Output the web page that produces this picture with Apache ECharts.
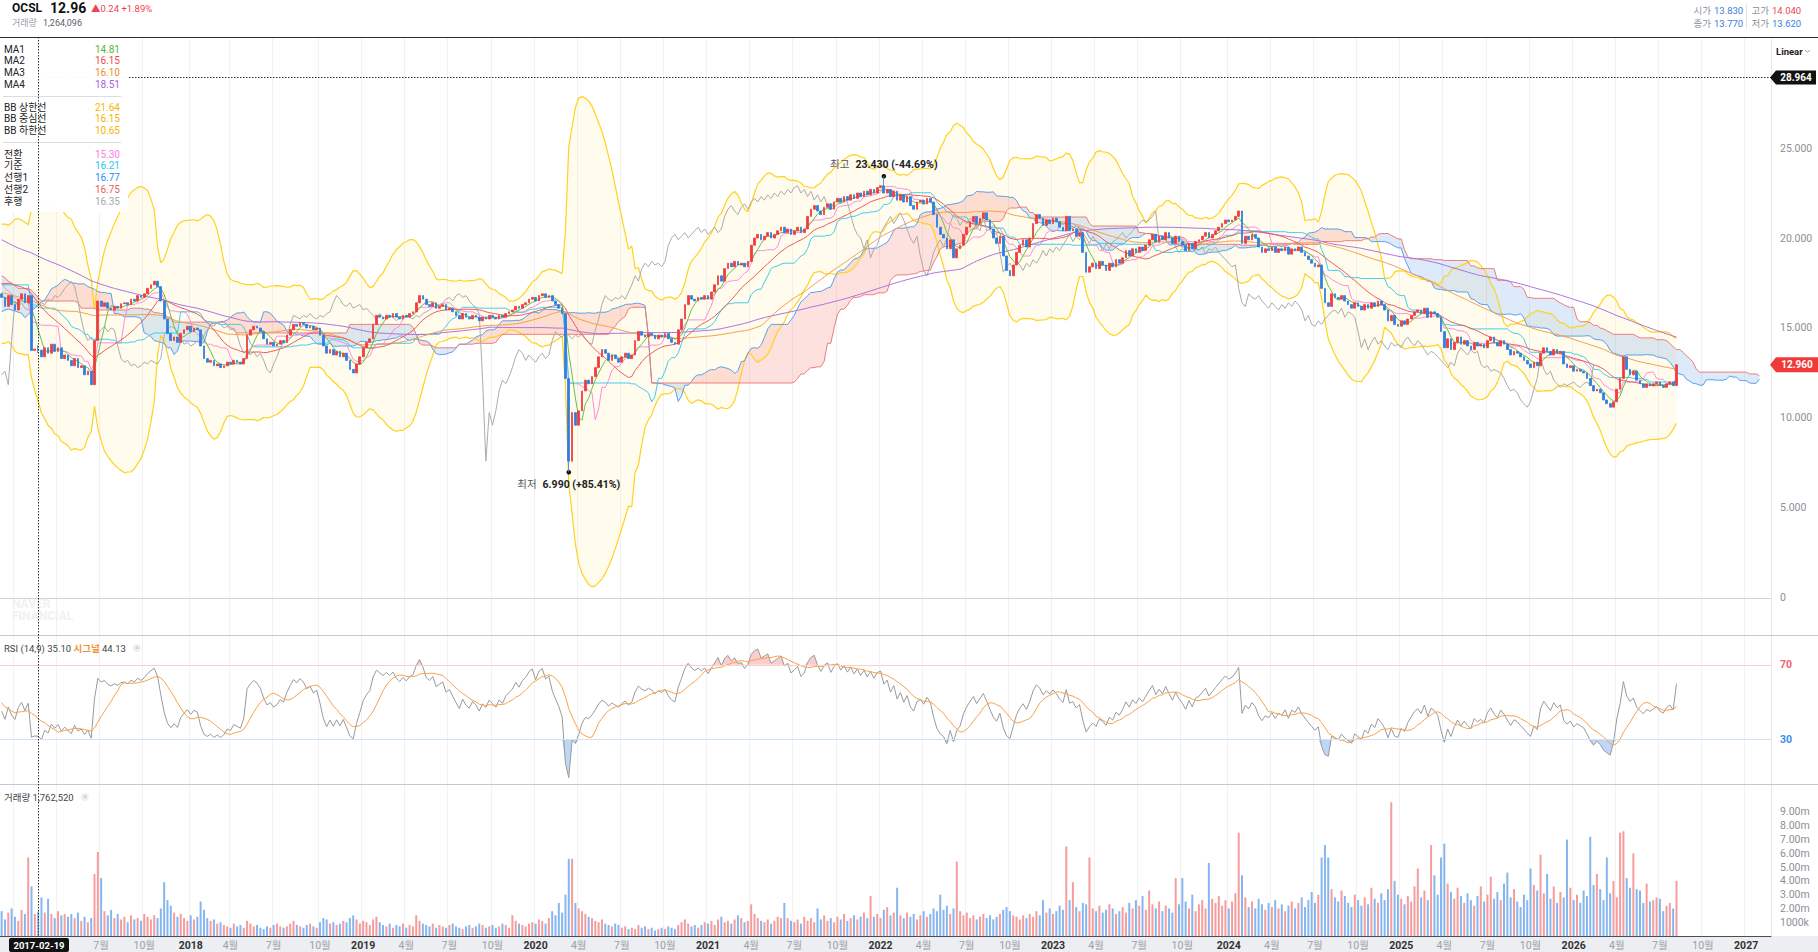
<!DOCTYPE html>
<html><head><meta charset="utf-8">
<script src="https://cdn.jsdelivr.net/npm/echarts@6/dist/echarts.min.js"></script>
<style>html,body{margin:0;padding:0;background:#fff;overflow:hidden}#c{width:1818px;height:952px}</style>
</head><body><div id="c"></div>
<script>
// ---------------- data ----------------
const startDate = '2016-12-04';   // first weekly candle
const weekCount = 534;            // weeks on the axis (data + 26-week cloud lead)
// weekly closes before the visible window (warm-up for the long indicators)
const preClose = [
 29.5,29.7,29.6,29.8,29.4,29.0,28.5,28.2,27.8,27.5,27.9,28.2,28.0,27.6,
 27.0,26.5,25.8,24.9,23.5,22.8,23.9,24.5,24.2,
 24.0,23.6,23.0,22.4,22.0,22.8,23.5,23.8,23.4,23.2,23.6,
 23.9,24.3,24.0,23.5,23.2,23.8,24.0,23.6,23.1,22.8,22.5,22.2,21.9,
 21.6,22.0,22.4,22.1,21.8,22.3,22.6,22.4,22.0,21.8,21.5,21.2,21.0,
 20.8,21.2,21.0,20.6,20.2,19.8,19.5,18.9,19.2,19.6,19.8,19.4,19.0,
 19.2,19.5,19.8,19.6,19.0,18.5,18.2,18.6,19.0,18.8,18.3,18.0,17.8,
 16.8,15.6,14.9,14.3,13.8,13.2,13.6,14.4,14.9,15.3,15.0,15.4,15.8,
 15.6,15.9,16.2,16.0,15.7,16.1,16.4,16.2,16.0,16.3,16.6,16.4,16.2,
 16.5,16.9,17.3,17.6,17.9,18.2,18.0,18.4,18.8,18.5,18.2,17.9,17.6,
 17.3,16.7,17.1,16.5,16.9
];
// weekly closes, visible window
const close = [
 16.7,16.2,16.8,16.3,16.0,16.6,16.9,16.4,16.8,13.75,
 13.83,13.77,13.4,13.9,13.6,14.1,13.7,13.9,13.3,13.5,
 13.2,12.9,13.3,12.8,12.9,12.4,12.6,11.85,14.3,16.5,
 16.2,16.4,16.1,16.0,16.2,16.1,16.35,16.4,16.3,16.6,
 16.5,16.8,16.7,16.9,17.2,17.4,17.6,17.3,16.5,15.5,
 14.7,14.3,14.5,14.2,14.7,14.9,15.1,14.8,15.0,14.9,
 14.0,13.3,13.1,13.2,12.9,13.0,12.8,12.9,13.1,13.0,
 13.2,13.1,13.0,13.3,14.6,14.9,15.1,15.0,14.8,14.4,
 14.1,14.2,14.0,14.1,14.3,14.2,14.6,14.9,15.2,15.1,
 15.3,15.2,15.0,15.1,14.9,15.0,14.6,14.0,13.6,13.8,
 13.5,13.7,13.4,13.6,13.2,12.7,12.5,13.0,13.4,13.9,
 14.2,14.4,15.2,15.7,15.6,15.5,15.7,15.6,15.8,15.6,
 15.5,15.7,15.6,15.8,15.9,16.4,16.8,16.6,16.3,16.2,
 16.4,16.1,16.2,16.3,16.0,16.1,15.9,15.7,15.5,15.8,
 15.6,15.5,15.7,15.6,15.4,15.6,15.5,15.7,15.6,15.5,
 15.7,15.6,15.8,15.9,16.0,16.2,16.1,16.3,16.4,16.6,
 16.7,16.5,16.8,16.9,16.7,16.8,16.5,16.3,16.1,15.8,
 12.2,7.6,10.3,9.6,10.4,11.5,12.1,11.9,12.3,12.8,
 13.4,13.8,13.6,13.2,13.5,13.3,13.1,13.4,13.6,13.3,
 13.5,14.3,14.8,14.6,14.5,14.7,14.6,14.4,14.6,14.5,
 14.7,14.4,14.2,14.1,14.9,15.5,16.3,16.8,16.6,16.5,
 16.7,16.6,16.8,16.6,17.0,17.4,17.9,17.6,18.3,18.6,
 18.4,18.7,18.5,18.6,18.4,18.7,19.6,20.0,20.2,19.9,
 20.1,20.3,20.0,20.2,20.4,20.6,20.3,20.5,20.2,20.4,
 20.6,20.3,20.5,21.2,21.6,21.8,21.5,21.3,21.7,21.9,
 21.6,22.0,22.2,22.0,22.3,22.1,22.4,22.2,22.5,22.3,
 22.6,22.4,22.7,22.5,22.8,22.9,22.5,22.7,22.3,22.6,
 22.1,22.4,22.0,22.3,21.8,21.6,22.0,22.1,21.9,22.2,
 22.0,21.3,20.6,20.2,20.0,19.4,19.9,18.9,19.4,19.6,
 20.2,20.6,20.9,21.2,20.8,21.1,21.4,21.0,20.5,20.0,
 19.7,20.1,19.0,18.2,17.9,18.5,19.2,19.6,19.9,19.5,
 20.0,20.8,21.3,21.1,20.7,21.0,20.8,21.1,20.9,20.6,
 20.4,21.2,20.4,20.5,20.1,20.3,19.2,18.1,18.4,18.6,
 18.3,18.7,18.5,18.2,18.6,18.4,18.8,18.6,18.9,19.3,
 19.0,19.4,19.2,19.5,19.3,19.6,19.9,20.2,19.8,20.1,
 19.9,20.3,20.0,19.7,20.1,19.8,19.6,19.3,19.7,19.4,
 19.8,19.9,20.1,20.3,20.0,20.2,20.4,20.6,20.8,21.0,
 20.9,21.0,21.2,21.5,19.7,20.1,19.9,20.2,20.0,19.5,
 19.2,19.4,19.3,19.5,19.2,19.4,19.3,19.5,19.1,19.4,
 19.3,19.5,19.2,19.0,18.8,18.6,18.4,18.5,17.2,16.4,
 16.2,16.9,16.7,16.6,16.8,16.5,16.3,16.1,16.4,16.2,
 16.0,16.3,16.1,16.4,16.2,16.5,16.3,16.0,15.4,15.7,
 15.2,15.1,15.4,15.2,15.5,15.7,15.9,16.0,15.8,16.1,
 15.6,15.9,15.8,15.6,14.8,13.9,14.4,13.8,14.2,14.5,
 14.1,14.3,14.0,13.8,14.2,14.0,14.1,13.9,14.3,14.5,
 14.2,14.0,14.3,14.1,13.8,13.5,13.7,13.6,13.4,13.2,
 13.0,12.8,13.1,12.9,13.6,13.9,13.7,13.5,13.8,13.6,
 13.7,13.0,12.8,12.9,12.6,12.7,12.6,12.5,12.2,11.8,
 11.5,11.6,11.4,11.0,10.8,10.6,10.9,11.6,12.2,13.4,
 12.7,12.4,12.6,12.1,11.9,11.7,11.9,11.8,11.9,12.0,
 11.8,11.7,11.9,12.0,11.8,12.96
];
// weekly volume, millions of shares
const volumeM = [
 1.8,1.2,1.7,2.0,1.4,1.1,1.9,1.6,5.7,3.6,
 1.6,1.76,2.8,1.7,2.7,1.6,1.3,1.8,1.5,1.6,
 1.4,1.6,1.3,1.7,1.1,1.4,1.0,1.3,4.5,6.1,
 4.2,1.8,1.5,1.9,1.3,1.6,1.2,1.4,1.0,1.5,
 1.2,1.3,1.1,1.6,1.4,1.2,1.5,1.3,2.0,3.9,
 2.6,2.2,1.7,1.4,1.6,1.3,1.1,1.5,1.2,1.4,
 2.5,1.9,1.3,1.1,1.2,0.9,1.0,0.8,0.7,0.6,
 0.9,0.7,0.8,0.6,1.1,0.9,0.7,0.8,0.6,0.5,
 0.7,0.6,0.8,0.9,0.7,0.6,0.7,0.9,1.1,0.8,
 0.7,0.6,0.8,0.9,0.7,0.6,1.0,1.3,1.2,0.9,
 1.0,0.8,0.9,1.1,1.0,1.3,1.5,1.2,0.9,1.1,
 1.0,0.8,1.2,1.4,1.0,0.8,0.7,0.9,0.6,0.8,
 0.7,0.9,0.6,0.8,0.7,1.5,1.1,0.9,0.8,0.7,
 0.9,0.6,0.8,0.7,0.6,0.8,0.9,0.7,0.6,0.5,
 0.7,0.8,0.6,0.7,0.9,0.8,0.6,0.7,0.8,0.6,
 0.7,0.9,0.8,0.6,1.5,1.1,0.9,0.8,0.7,0.9,
 1.0,0.9,1.2,1.1,0.9,1.3,1.8,1.5,2.4,1.7,
 3.0,5.6,5.6,2.4,2.0,1.8,1.6,1.4,1.3,1.1,
 1.0,1.2,0.9,0.8,0.7,0.9,0.8,0.6,0.7,0.5,
 0.6,0.5,0.8,0.6,0.7,0.5,0.6,0.4,0.5,0.6,
 0.5,0.7,0.6,0.5,0.8,1.0,1.2,0.9,0.7,0.8,
 0.6,0.8,1.0,0.9,1.1,0.8,1.2,1.4,1.0,1.1,
 0.9,1.2,1.5,1.3,1.0,1.1,2.3,1.6,1.3,1.1,
 1.0,1.2,0.9,1.1,1.4,1.3,2.4,1.3,1.1,1.0,
 1.2,0.9,1.4,1.1,1.3,1.0,2.0,1.2,1.5,1.1,
 1.3,1.0,1.4,1.2,1.6,1.1,1.3,1.5,1.2,1.4,
 1.7,1.3,2.9,1.4,1.6,1.3,1.9,2.1,1.5,1.7,
 3.5,1.5,1.3,1.7,1.4,1.6,1.2,1.5,1.8,1.4,
 1.6,2.0,1.8,3.0,1.9,2.2,1.6,2.0,5.4,1.8,
 1.5,1.7,1.3,1.5,1.2,1.4,1.6,1.3,1.5,1.2,
 1.4,1.6,1.9,2.1,1.8,1.5,1.4,1.2,1.5,1.3,
 1.6,1.4,1.8,1.5,2.6,1.7,2.0,1.6,1.8,2.2,
 1.9,6.5,2.6,3.9,2.1,1.8,2.4,2.3,5.7,2.0,
 1.8,2.2,1.7,1.9,2.3,2.0,1.6,1.8,2.1,1.7,
 2.4,2.0,2.6,2.2,2.9,1.9,3.3,2.3,2.0,2.5,
 1.8,2.2,2.0,1.7,4.2,2.3,4.2,2.5,2.0,3.0,
 1.8,2.3,2.6,2.0,5.3,2.7,2.4,2.9,2.2,2.6,
 2.0,2.5,3.1,7.5,4.4,2.8,2.1,2.5,2.0,2.7,
 2.3,1.9,2.4,2.1,2.6,2.0,2.3,1.8,2.2,2.5,
 2.0,2.4,2.8,2.1,2.6,3.2,2.4,3.0,5.7,6.6,
 5.7,3.4,2.8,2.5,3.3,2.9,2.4,2.1,3.0,2.6,
 2.2,2.8,2.3,3.5,2.7,2.4,3.1,2.6,3.4,9.7,
 4.0,3.0,2.7,2.3,2.9,2.5,3.6,4.9,2.8,3.3,
 2.6,6.6,4.4,3.0,5.7,6.7,3.8,3.2,2.7,3.5,
 2.9,2.4,3.1,2.6,2.2,2.9,3.6,2.5,3.0,4.3,
 2.7,3.2,2.6,3.8,4.6,2.8,3.4,2.5,2.1,3.0,
 2.6,4.9,3.7,3.3,5.9,3.1,4.5,2.7,3.6,2.4,
 3.2,2.8,7.0,3.5,2.6,3.0,2.4,3.3,2.9,7.2,
 3.7,4.5,3.4,2.6,5.7,3.1,4.0,2.8,7.5,7.6,
 4.2,3.5,6.0,3.4,3.3,2.4,3.8,2.5,2.6,2.8,
 2.7,1.8,2.2,2.4,2.0,4.0
];
// wick extremes readable in the picture: [week index, value]
const highMarks = [[11, 14.04], [266, 23.43]];
const lowMarks  = [[11, 13.62], [171, 6.99]];
const lastClose = 12.96;
const hoverIndex = 11;
const hoverDate = '2017-02-19';
const hoverPrice = 28.964;
// axis tick labels
const priceTicks = [0, 5, 10, 15, 20, 25];
const rsiTicks = [30, 70];
const volTicks = [1, 2, 3, 4, 5, 6, 7, 8, 9];
// legend texts (values at hovered week 2017-02-19)
const legendMA = [['MA1','14.81','#5cb531'],['MA2','16.15','#f0484b'],['MA3','16.10','#f38b2c'],['MA4','18.51','#a263d9']];
const legendBB = [['BB 상한선','21.64','#f7b500'],['BB 중심선','16.15','#f7b500'],['BB 하한선','10.65','#f7b500']];
const legendIchi = [['전환','15.30','#ff79e0'],['기준','16.21','#1ec8f0'],['선행1','16.77','#2d8cf0'],['선행2','16.75','#f05a5a'],['후행','16.35','#a5a9b0']];

// ---------------- build ----------------
const dates = [], dateObjs = [];
{ const t0 = Date.parse(startDate + 'T00:00:00Z');
  for (let i = 0; i < weekCount; i++) { const d = new Date(t0 + i * 7 * 86400000); dateObjs.push(d); dates.push(d.toISOString().slice(0, 10)); } }
const P = preClose.length, N = close.length;
const fc = preClose.concat(close);
const fo = fc.map((c, j) => j === 0 ? c : fc[j - 1]);
const fh = fc.map((c, j) => Math.max(c, fo[j]));
const fl = fc.map((c, j) => Math.min(c, fo[j]));
highMarks.forEach(([i, v]) => fh[i + P] = v);
lowMarks.forEach(([i, v]) => fl[i + P] = v);

function ma(n) { return close.map((_, i) => { const j = i + P; if (j - n + 1 < 0) return null; let s = 0; for (let k = j - n + 1; k <= j; k++) s += fc[k]; return s / n; }); }
const ma1 = ma(5), ma2 = ma(20), ma3 = ma(60), ma4 = ma(120);
// Bollinger as drawn by the source chart (20 weeks, half width = sqrt of summed squared deviations)
const bbHalf = close.map((_, i) => { const j = i + P, m = ma2[i]; let s = 0; for (let k = j - 19; k <= j; k++) s += (fc[k] - m) * (fc[k] - m); return Math.sqrt(s); });
const bbUp = ma2.map((m, i) => m + bbHalf[i]);
const bbLo = ma2.map((m, i) => m - bbHalf[i]);
function hlMid(n, j) { if (j - n + 1 < 0) return null; let hi = -Infinity, lo = Infinity; for (let k = j - n + 1; k <= j; k++) { if (fh[k] > hi) hi = fh[k]; if (fl[k] < lo) lo = fl[k]; } return (hi + lo) / 2; }
const tenkan = close.map((_, i) => hlMid(9, i + P));
const kijun = close.map((_, i) => hlMid(26, i + P));
const SHIFT = 25;
const spanA = new Array(weekCount).fill(null), spanB = new Array(weekCount).fill(null), chikou = new Array(weekCount).fill(null);
for (let i = -SHIFT; i < N; i++) { const k = i + SHIFT; if (k < 0 || k >= weekCount) continue; const j = i + P; const t = hlMid(9, j), kj = hlMid(26, j); spanA[k] = (t != null && kj != null) ? (t + kj) / 2 : null; spanB[k] = hlMid(52, j); }
for (let k = 0; k + SHIFT < N; k++) chikou[k] = close[k + SHIFT];
const cloudLow = spanA.map((a, k) => a == null || spanB[k] == null ? null : Math.min(a, spanB[k]));
const cloudUp = spanA.map((a, k) => a == null || spanB[k] == null ? null : Math.max(0, a - spanB[k]));
const cloudDn = spanA.map((a, k) => a == null || spanB[k] == null ? null : Math.max(0, spanB[k] - a));
// RSI 14 (Wilder) and 9-week signal
const rsiFull = new Array(fc.length).fill(null);
{ let ag = 0, al = 0; for (let j = 1; j < fc.length; j++) { const d = fc[j] - fc[j - 1]; const g = Math.max(d, 0), l = Math.max(-d, 0);
  if (j <= 14) { ag += g; al += l; if (j === 14) { ag /= 14; al /= 14; rsiFull[j] = al === 0 ? 100 : 100 - 100 / (1 + ag / al); } }
  else { ag = (ag * 13 + g) / 14; al = (al * 13 + l) / 14; rsiFull[j] = al === 0 ? 100 : 100 - 100 / (1 + ag / al); } } }
const rsi = close.map((_, i) => rsiFull[i + P]);
const rsiSig = close.map((_, i) => { const j = i + P; let s = 0; for (let k = j - 8; k <= j; k++) s += rsiFull[k]; return s / 9; });

const candles = close.map((c, i) => { const j = i + P; return [fo[j], c, fl[j], fh[j]]; });
const volData = volumeM.map((v, i) => ({ value: v, itemStyle: { color: close[i] >= fo[i + P] ? '#f59c9c' : '#86b6ef' } }));
const hiVal = 23.43, loVal = 6.99;
const pct = v => ((lastClose - v) / v * 100);
const hiLabel = '{g|최고}  {b|' + hiVal.toFixed(3) + ' (' + pct(hiVal).toFixed(2) + '%)}';
const loLabel = '{g|최저}  {b|' + loVal.toFixed(3) + ' (+' + pct(loVal).toFixed(2) + '%)}';

function quarterStart(idx) { const d = dateObjs[idx]; const m = d.getUTCMonth(); if (m % 3 !== 0) return false; if (idx === 0) return d.getUTCDate() <= 7; return dateObjs[idx - 1].getUTCMonth() !== m; }
// the first year label sits under the hovered-date tag, so it is not printed
function labelShown(idx) { return quarterStart(idx) && idx > 6; }

const FONT = 'Roboto, "Noto Sans CJK KR", "Noto Sans", sans-serif';
const PLOT_W = 1771;
const grids = [
  { left: 0, top: 37, width: PLOT_W, height: 598 },
  { left: 0, top: 635, width: PLOT_W, height: 149 },
  { left: 0, top: 784, width: PLOT_W, height: 152 }
];
const xAxes = [0, 1, 2].map(g => ({
  type: 'category', gridIndex: g, data: dates, boundaryGap: true,
  axisLine: { show: g === 2, lineStyle: { color: '#4a4f57', width: 1 } },
  axisTick: { show: false },
  axisLabel: g === 2 ? {
    show: true, interval: (i) => labelShown(i), showMinLabel: false, margin: 4, fontFamily: FONT, fontSize: 10.5,
    formatter: (v, i) => { const d = dateObjs[i]; const m = d.getUTCMonth(); return m === 0 ? '{y|' + d.getUTCFullYear() + '}' : '{m|' + (m + 1) + '월}'; },
    rich: { y: { color: '#333', fontWeight: 'bold', fontSize: 10.5, fontFamily: FONT }, m: { color: '#9aa0a8', fontSize: 10.5, fontFamily: FONT } }
  } : { show: false },
  splitLine: { show: true, interval: (i) => quarterStart(i), lineStyle: { color: '#f0f1f3', width: 1 } }
}));
const yAxes = [
  { type: 'value', gridIndex: 0, position: 'right', min: -2.0556, max: 31.1667, splitLine: { show: false },
    axisLine: { show: true, lineStyle: { color: '#e6e8eb' } }, axisTick: { show: false },
    axisLabel: { customValues: priceTicks, formatter: v => Math.abs(v) < 1e-9 ? '0' : (+v).toFixed(3), color: '#8b9099', fontSize: 10.5, fontFamily: FONT, margin: 9 } },
  { type: 'value', gridIndex: 1, position: 'right', min: 6, max: 86, splitLine: { show: false },
    axisLine: { show: true, lineStyle: { color: '#e6e8eb' } }, axisTick: { show: false },
    axisLabel: { customValues: rsiTicks, formatter: v => +v > 50 ? '{r|70}' : '{b|30}', margin: 9,
      rich: { r: { color: '#f0646e', fontSize: 10.5, fontWeight: 'bold', fontFamily: FONT }, b: { color: '#3d8cf0', fontSize: 10.5, fontWeight: 'bold', fontFamily: FONT } } } },
  { type: 'value', gridIndex: 2, position: 'right', min: 0, max: 11.03, splitLine: { show: false },
    axisLine: { show: true, lineStyle: { color: '#e6e8eb' } }, axisTick: { show: false },
    axisLabel: { customValues: volTicks, formatter: v => Math.abs(v - 1) < 1e-9 ? '1000k' : (+v).toFixed(2) + 'm', color: '#8b9099', fontSize: 10.5, fontFamily: FONT, margin: 9 } }
];
function ln(data, color, extra) { return Object.assign({ type: 'line', data, xAxisIndex: 0, yAxisIndex: 0, symbol: 'none', silent: true, animation: false, lineStyle: { color, width: 1 }, z: 3 }, extra || {}); }
const series = [
  ln(bbLo, 'transparent', { stack: 'bb', stackStrategy: 'all', lineStyle: { opacity: 0 }, z: 1 }),
  ln(bbUp.map((u, i) => u - bbLo[i]), 'transparent', { stack: 'bb', stackStrategy: 'all', lineStyle: { opacity: 0 }, areaStyle: { color: 'rgba(255,224,100,0.16)' }, z: 1 }),
  ln(cloudLow, 'transparent', { stack: 'cl', stackStrategy: 'all', lineStyle: { opacity: 0 }, z: 1 }),
  ln(cloudUp, 'transparent', { stack: 'cl', stackStrategy: 'all', lineStyle: { opacity: 0 }, areaStyle: { color: 'rgba(240,95,85,0.27)' }, z: 1 }),
  ln(cloudDn, 'transparent', { stack: 'cl', stackStrategy: 'all', lineStyle: { opacity: 0 }, areaStyle: { color: 'rgba(70,145,230,0.27)' }, z: 1 }),
  ln(bbUp, '#ffd21f', { lineStyle: { color: '#ffd21f', width: 1.2 } }),
  ln(bbLo, '#ffd21f', { lineStyle: { color: '#ffd21f', width: 1.2 } }),
  ln(spanA, '#5a9ff0'),
  ln(spanB, '#f27a7a'),
  ln(chikou, '#ababab'),
  ln(tenkan, '#ff8ae3'),
  ln(kijun, '#3fcdf0'),
  ln(ma4, '#ad72e0'),
  ln(ma3, '#f5a04a'),
  ln(ma2, '#ef5b5b'),
  ln(ma1, '#6abf4b'),
  { type: 'candlestick', data: candles, xAxisIndex: 0, yAxisIndex: 0, barWidth: 2.2, silent: true, z: 5, animation: false,
    itemStyle: { color: '#f03c3c', color0: '#2f7fe0', borderColor: '#f03c3c', borderColor0: '#2f7fe0', borderWidth: 0.8 },
    markLine: { silent: true, symbol: ['none', 'none'], label: { show: false }, lineStyle: { color: '#d0d3d8', type: 'solid', width: 1 }, data: [{ yAxis: 0 }], animation: false },
    markPoint: { silent: true, animation: false, symbol: 'circle', symbolSize: 4.5, itemStyle: { color: '#111' },
      label: { show: true, fontFamily: FONT, rich: { g: { color: '#555', fontSize: 10.5, fontFamily: FONT }, b: { color: '#222', fontSize: 10.5, fontWeight: 'bold', fontFamily: FONT } } },
      data: [
        { coord: [dates[266], hiVal], label: { position: 'top', distance: 4, formatter: hiLabel } },
        { coord: [dates[171], loVal], label: { position: 'bottom', distance: 4, formatter: loLabel } }
      ] } },
  // RSI pane
  ln(rsi.map(v => v == null ? null : 70), 'transparent', { xAxisIndex: 1, yAxisIndex: 1, stack: 'rh', lineStyle: { opacity: 0 } }),
  ln(rsi.map(v => v == null ? null : Math.max(0, v - 70)), 'transparent', { xAxisIndex: 1, yAxisIndex: 1, stack: 'rh', lineStyle: { opacity: 0 }, areaStyle: { color: 'rgba(240,100,100,0.45)' } }),
  ln(rsi.map(v => v == null ? null : Math.min(v, 30)), 'transparent', { xAxisIndex: 1, yAxisIndex: 1, stack: 'rl', lineStyle: { opacity: 0 } }),
  ln(rsi.map(v => v == null ? null : 30 - Math.min(v, 30)), 'transparent', { xAxisIndex: 1, yAxisIndex: 1, stack: 'rl', lineStyle: { opacity: 0 }, areaStyle: { color: 'rgba(70,140,230,0.5)' } }),
  ln(rsi, '#9a9a9a', { xAxisIndex: 1, yAxisIndex: 1, z: 4,
    markLine: { silent: true, symbol: ['none', 'none'], label: { show: false }, animation: false,
      data: [{ yAxis: 70, lineStyle: { color: '#f8cfcf', type: 'solid', width: 1 } }, { yAxis: 30, lineStyle: { color: '#cde0f6', type: 'solid', width: 1 } }] } }),
  ln(rsiSig, '#f7a246', { xAxisIndex: 1, yAxisIndex: 1, z: 4 }),
  // volume pane
  { type: 'bar', data: volData, xAxisIndex: 2, yAxisIndex: 2, barWidth: 2, silent: true, animation: false }
];

const chart = echarts.init(document.getElementById('c'), null, { renderer: 'svg', width: 1818, height: 952 });
chart.setOption({ animation: false, backgroundColor: '#fff', grid: grids, xAxis: xAxes, yAxis: yAxes, series });

// ---------------- overlay texts & crosshair ----------------
function T(x, y, text, fill, size, weight, align, z) {
  return { type: 'text', x, y, z: z || 51, silent: true,
    style: { text, fill, fontSize: size, fontWeight: weight || 'normal', fontFamily: FONT, align: align || 'left', textAlign: align || 'left', verticalAlign: 'middle', textVerticalAlign: 'middle' } };
}
function L(x1, y1, x2, y2, stroke, z, dash) { return { type: 'line', z: z || 50, silent: true, shape: { x1, y1, x2, y2 }, style: { stroke, lineWidth: 1, lineDash: dash || null } }; }
function tag(xl, ym, w, h, text, fill) {
  return [
    { type: 'polygon', z: 60, silent: true, shape: { points: [[xl, ym], [xl + 6, ym - h / 2], [xl + w, ym - h / 2], [xl + w, ym + h / 2], [xl + 6, ym + h / 2]] }, style: { fill } },
    T(xl + 6 + (w - 6) / 2, ym, text, '#fff', 10, 'bold', 'center', 61)
  ];
}
const xHover = Math.round(chart.convertToPixel({ xAxisIndex: 0 }, dates[hoverIndex])) + 0.5;
const yHover = Math.round(chart.convertToPixel({ yAxisIndex: 0 }, hoverPrice)) + 0.5;
const yLast = chart.convertToPixel({ yAxisIndex: 0 }, lastClose);
const g = [];
g.push({ type: 'rect', z: -10, silent: true, shape: { x: 0, y: 936, width: 1818, height: 16 }, style: { fill: '#eceef1' } });
g.push(L(0, 37.5, 1818, 37.5, '#2b2b2b', 50));
g.push(L(0, 635.5, 1818, 635.5, '#c4c8ce', 50));
g.push(L(0, 784.5, 1818, 784.5, '#c4c8ce', 50));
// header
g.push(T(12, 8, 'OCSL', '#111', 12, 'bold'));
g.push(T(50, 8, '12.96', '#111', 14, 'bold'));
g.push(T(91, 8, '▲0.24 +1.89%', '#f04452', 9.5));
g.push(T(12, 23, '거래량', '#9aa0a8', 9));
g.push(T(43, 23, '1,264,096', '#5a606b', 9));
g.push(T(1711, 10, '시가', '#8a8f99', 9.5, 'normal', 'right')); g.push(T(1714, 10, '13.830', '#3b7ddd', 9.5));
g.push(T(1769, 10, '고가', '#8a8f99', 9.5, 'normal', 'right')); g.push(T(1772, 10, '14.040', '#f04452', 9.5));
g.push(T(1711, 23, '종가', '#8a8f99', 9.5, 'normal', 'right')); g.push(T(1714, 23, '13.770', '#3b7ddd', 9.5));
g.push(T(1769, 23, '저가', '#8a8f99', 9.5, 'normal', 'right')); g.push(T(1772, 23, '13.620', '#3b7ddd', 9.5));
g.push(L(1746.5, 4, 1746.5, 29, '#e1e3e6', 50));
g.push(T(1776, 51, 'Linear', '#222', 9.5, 'bold'));
g.push({ type: 'polyline', z: 51, silent: true, shape: { points: [[1805, 50], [1807.5, 52.5], [1810, 50]] }, style: { stroke: '#9aa0a8', lineWidth: 1, fill: null } });
// horizontal crosshair (under the legend panel)
g.push(L(0, yHover, PLOT_W, yHover, '#333', 40, [1.5, 1.5]));
// legend panel
g.push({ type: 'rect', z: 50, silent: true, shape: { x: 0, y: 38, width: 128, height: 174 }, style: { fill: 'rgba(255,255,255,0.96)' } });
const rowH = 11.9;
legendMA.forEach((r, k) => { const y = 49 + k * rowH; g.push(T(4, y, r[0], '#222', 10)); g.push(T(120, y, r[1], r[2], 10, 'normal', 'right')); });
g.push(L(3, 96.5, 121, 96.5, '#dcdde0', 51));
legendBB.forEach((r, k) => { const y = 107 + k * rowH; g.push(T(4, y, r[0], '#222', 10)); g.push(T(120, y, r[1], r[2], 10, 'normal', 'right')); });
g.push(L(3, 142.5, 121, 142.5, '#dcdde0', 51));
legendIchi.forEach((r, k) => { const y = 154 + k * rowH; g.push(T(4, y, r[0], '#222', 10)); g.push(T(120, y, r[1], r[2], 10, 'normal', 'right')); });
// watermark
g.push(T(12, 604, 'NAVER', '#f0f1f3', 12, 'bold', 'left', 2));
g.push(T(12, 616, 'FINANCIAL', '#f0f1f3', 12, 'bold', 'left', 2));
// pane headers
g.push({ type: 'text', z: 51, silent: true, x: 4, y: 648, style: { text: '{a|RSI (14,9) 35.10 }{o|시그널}{a| 44.13}', fontFamily: FONT, fontSize: 9.5, verticalAlign: 'middle', textVerticalAlign: 'middle',
  rich: { a: { fill: '#444', color: '#444', fontSize: 9.5, fontFamily: FONT }, o: { fill: '#f5922f', color: '#f5922f', fontSize: 9.5, fontWeight: 'bold', fontFamily: FONT } } } });
g.push({ type: 'circle', z: 51, silent: true, shape: { cx: 137, cy: 648, r: 4 }, style: { fill: '#eeeff1' } });
g.push(T(137, 648, '×', '#c3c6cb', 7, 'normal', 'center'));
g.push({ type: 'text', z: 51, silent: true, x: 4, y: 797, style: { text: '거래량 1,762,520', fill: '#444', fontSize: 9.5, fontFamily: FONT, verticalAlign: 'middle', textVerticalAlign: 'middle' } });
g.push({ type: 'circle', z: 51, silent: true, shape: { cx: 85, cy: 797, r: 4 }, style: { fill: '#eeeff1' } });
g.push(T(85, 797, '×', '#c3c6cb', 7, 'normal', 'center'));
// vertical crosshair (above the panel)
g.push(L(xHover, 37, xHover, 936, '#333', 58, [1.5, 1.5]));
// tags
tag(1770, yHover, 46, 14, hoverPrice.toFixed(3), '#111').forEach(e => g.push(e));
tag(1770, yLast, 48, 15, lastClose.toFixed(3), '#f03a3a').forEach(e => g.push(e));
g.push({ type: 'rect', z: 60, silent: true, shape: { x: 9, y: 938, width: 60, height: 14, r: 2 }, style: { fill: '#111' } });
g.push(T(39, 945, hoverDate, '#fff', 9.5, 'bold', 'center', 61));
chart.setOption({ graphic: { elements: g } });
</script></body></html>
